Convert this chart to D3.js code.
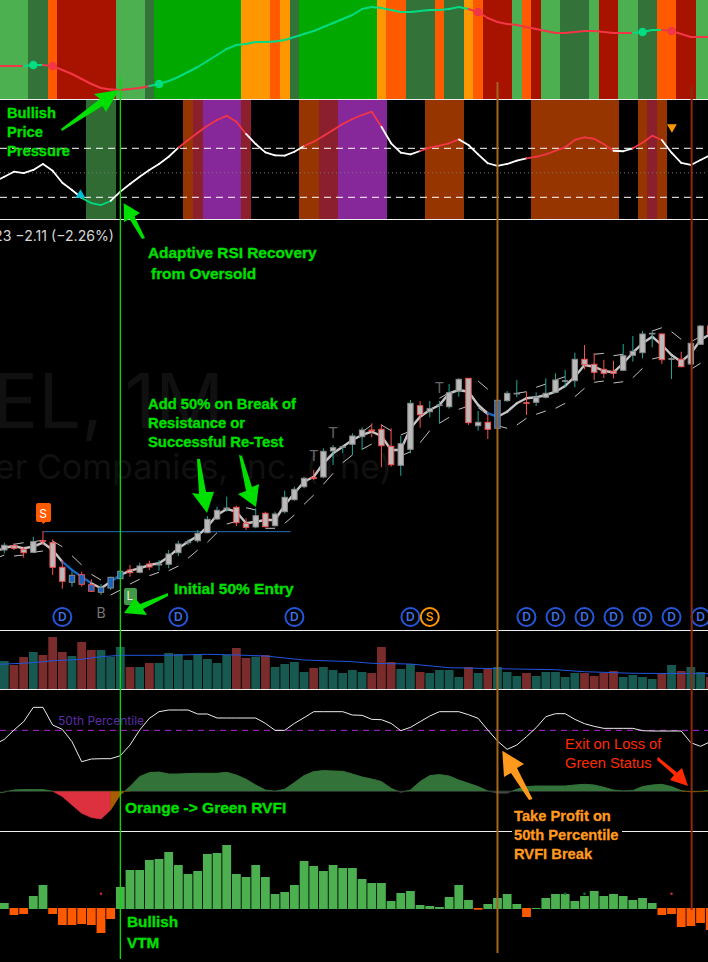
<!DOCTYPE html>
<html>
<head>
<meta charset="utf-8">
<style>
  html, body { margin: 0; padding: 0; background: #000; overflow: hidden; }
  svg { display: block; }
</style>
<script src="https://cdn.jsdelivr.net/npm/d3@7"></script>
</head>
<body>
<svg id="chart" width="708" height="962"></svg>
<script>
// ---- data, one entry per monthly bar (74 bars) ----
const pressureRuns = [['lg',3],['dg',2],['ro',1],['dr',6],['lg',3],['dg',1],['gr',9],['or',3],['ro',1],['or',1],['dg',1],['gr',8],['or',1],['ro',2],['dg',3],['ro',1],['dg',2],['or',1],['ro',1],['dr',3],['lg',1],['ro',1],['dr',1],['lg',2],['dg',3],['lg',1],['dr',2],['lg',2],['dg',2],['ro',2],['dr',2],['lg',2]];
const pressureLine = [33,33,33,34,34,33,29,25,20,15,11,9.5,9,10,11,13,15,18,22,27,32,38,44,50,54,55,57,57,57.5,59,62,65,68,72,76,80,84,90,92,91,89,87,87,88,89,89,90,92,90,87,81,77,75,74,72,70,68,66,66,67,68,68,67,66,66,66,67,69,69,68,65,62,62,62];
const pressureLineRuns = [['r',2],['g',2],['r',11],['g',33],['r',17],['g',3],['r',5]];
const pressureDots = [[3,'g'],[5,'r'],[16,'g'],[49,'r'],[66,'g'],[69,'r']];

const rsiRuns = [['',9],['dg',3],['',7],['br',1],['dr',1],['pu',4],['dr',1],['',5],['br',2],['dr',2],['pu',5],['',4],['br',4],['',7],['br',9],['',2],['br',1],['dr',1],['br',1],['',5]];
const rsiLine = [46.8,50.9,49.8,52.3,57.2,51.7,41.9,36,29.4,25.3,23.7,27,34.6,40.9,46.8,52.3,57.2,63.1,70.5,76.8,82.7,88.4,93.1,96.6,91.7,81.7,73.5,66.7,64.3,64,67.2,71.9,75.4,80,84.9,89.8,93.9,97.2,99.9,87.6,74.1,66.4,65.1,67.8,70.5,72.1,74.1,77.3,72.7,65.1,57.8,55.6,57.2,59.9,61.8,63.1,65.1,68,70.8,76.8,79,77.8,73.3,68,67.6,70,74.6,80.3,76.8,66.4,58.2,56.4,60.4,64.5];
const rsiLineRuns = [['w',8],['g',3],['w',7],['r',7],['w',6],['r',8],['w',4],['r',4],['w',7],['r',9],['w',2],['r',3],['w',5]];

const opens  = [80,84.3,80.7,77.7,89.3,87.3,62.7,47.7,55.3,45.3,37.7,42,51.3,60,57.7,66,65,65.7,77.3,87.3,89.3,97.3,111,121,122.7,106.7,103,116.7,104.3,118.3,130.3,143.3,152.3,153,179,183,185.7,193.3,200,200.7,183.7,164.7,180.7,224.3,218.3,224.7,223.3,239,251.7,204.3,207.7,201.7,229.3,236.3,227.3,227.7,232.7,237.7,249,249.3,270.7,265.7,260.7,258.7,259.7,274.7,277.3,296,296,271,270.7,266,285.7,304];
const highs  = [87.3,86.7,83.3,93.3,99,90.7,70,58.3,58.3,50.7,46,53.3,60,65,67.3,69.3,70,80,89.3,90.7,100,114,123.3,133.3,124,111.7,121.7,118.3,118.3,139.3,143.3,153.3,160,181.7,185,185,196.7,202.7,206.7,205.7,201.7,194,230,229,229,229,246,251.7,251.7,219,216.7,238.3,239,250,238.3,237.7,251.7,256.7,260,277.3,285,276.7,270,269.3,286,294,299,299.3,296.7,273.3,278.3,287.3,304.7,306];
const lows   = [76.7,80,72.3,76.7,85,55,41.3,43.3,43.3,38,35,40,50,53.3,56.7,60,59.3,61.7,74,85,87.3,96.7,110,118.3,104,100,101.7,102.7,103.3,116.7,129.3,141.7,150,151.7,165,176.7,175,180,192.7,162.7,163.3,154.3,176.7,202.3,212.7,206.7,221.3,233.3,205,199.3,191,191.7,228.3,232.7,215,224,231.7,236.7,242.7,242.7,260.7,250,252,251.7,259.3,268.3,271.7,282.7,266,251,262.7,265,285,292];
const closes = [84.7,81.7,77.3,88.3,88.7,62.7,48.7,54.7,45.7,38.7,42.7,52.7,58.7,57.3,64,63,66,76,86,88.3,96.7,110.7,119.7,122,107.3,102.7,114.3,103.3,116,132.7,140.7,151.7,151.7,178.7,182.3,183.3,194,200,199.3,184.3,165.3,186.3,226.7,215.3,221.3,225,237.3,250.7,207.3,207.7,200.7,229.7,236.7,236.7,226.7,232.7,236.7,250,249.3,270.7,265.3,257.7,256.7,256.7,274.3,278.7,296,296.7,270.3,271.3,263.3,286.7,304,296];
const blueBars = [7,8,9,10,11,12,51];

const trendLine = [82.3,84,81.7,83.3,87.3,80,68.3,60,53.3,46.7,41.7,48.3,55,59.3,61.7,65,66.7,73.3,81.7,88.3,94,103.3,115,121,118.3,106.7,108.3,110,110,125,136.7,148.3,153.3,166.7,176.7,183.3,190,195,198.3,194,180,180,201.7,213.3,220,225,236.7,240,238.3,225,216.7,213.3,218.3,226.7,231.7,232.7,235,238.3,244,253.3,265,263.3,259,257.7,266.7,277.3,286.7,293.3,285,275,268.3,276.7,290,296];
const trendBlue = [6,7,8,11,50];

// short stop segments, each runs from one bar to the next
const stopBars = [-1,1,1,3,3,5,7,9,11,13,15,17,19,21,23,25,27,29,31,33,35,37,37,39,41,41,43,45,45,47,49,49,51,53,53,55,55,57,57,59,61,61,63,63,65,67,67,69,71,71];
const stopFrom = [71,85.7,74,88.3,77.7,89,74.3,55.7,35,46,54.3,59.3,71.7,87.7,106,122.3,101.7,106.7,125.7,145.7,167.3,180.7,198,205,174,195,187.3,206.7,231.7,220.7,249,222.3,204.3,205,236.7,215.7,242.7,221.7,250,233.3,247.7,275.7,247,274.3,252.3,271,299,298.3,260.7,288.3];
const stopTo   = [75,87.3,75,89.7,79,83.3,65,50,40,50.7,57.7,64,80,97.3,108.7,120,101.7,115,135,156.7,175,186,205,199.3,178.3,199,199.3,212.7,237.3,224,240.7,215,201.7,211.7,238.3,219,246,226.7,253.3,241.7,249,276.7,248.3,275.7,261.7,273.3,302.3,290.7,266.7,293.3];

const resistance = 98.3;
const resistanceBars = [4,29.6];
const topMarks = [[32,169],[34,192],[45,237]];
const dividendBars = [6,18,30,42,54,57,60,63,66,69,72];
const splitBar = 44;

const volumes = [28,24,32,37,34,52,37,33,47,39,39,32.3,42,22,22,26,26,36,35,29,34,30,26,34,41,31,32.3,34,22,25,27,17,21,22,19,16,19,17,16,42,27,20,25,17,16,19,19,12,22,16,20,22,17,13,16,13,17,17,12,16,16,13,16,18,12,14,12,10,15,24,18,22,17,12];
const volumeUp = [1,0,0,1,0,0,0,1,0,0,1,1,1,0,1,0,1,1,1,1,1,1,1,1,0,0,1,0,1,1,1,1,0,1,1,1,1,1,0,0,0,1,1,0,1,1,1,1,0,1,0,1,1,1,0,1,1,1,1,1,0,0,0,0,1,1,1,1,0,1,0,1,1,0];
const volumeMaBars = [-0.45,3,5,8,10,12,17,21,24,27,31,36,38,42,46,51,57,60,65,73];
const volumeMa = [24.7,26.3,28.3,29.7,32.3,33.7,33.7,34.7,34,33,29,27.3,25.7,25,21.3,20.3,19.3,17.3,15.7,15.3];

const percentile = [36.5,50.5,63,84.5,84.5,58,51.5,33,3,7,7.5,7.5,12,28,50.5,68,78,80.5,80.5,80.5,74.5,74.5,68.5,68.5,68.5,68.5,68.5,60.5,50,50,60.5,69,78,78,78,78,73,72.5,66.5,66,60.5,49.5,54.5,63,71.5,78,78,78,73.5,68,50.5,34,21.5,28,40.5,54,70.5,75,75,66.5,60,56,53,53,53,53,49.5,49,49,49,49,31.5,26,33];
const rvfi = [-1,1.3,1.7,1.7,1.7,0,-5.3,-13.7,-22,-26.3,-27.7,-18.7,-3.7,4.7,14.7,18.7,19.3,17.3,17.3,17.7,18,18,18,19,16.3,12,6.3,1.3,0,2,8.7,15.7,19.7,20.7,20.3,20,17.3,14.3,12.3,9.7,3,-1.3,1.3,9.7,15.7,16.7,15.3,11.3,8,4.7,0.3,-2,-2,2,4.7,5.3,5.3,5.3,5.3,6.3,7,6.3,4,1.3,0.3,0.7,4.7,6.3,7,4.7,0.7,-0.7,-0.3,1.3];
const rvfiBelowRuns = [[0,5,'#444'],[5,11,'#DE3140'],[11,13,'#A85E00'],[13,70,'#444'],[70,73,'#A85E00']];

const vtm = [6,-6,-5,13,24,-5,-16,-16,-15,-16,-24,-10,22,39,39,49,50,57,44,35,38,55,56,64,35,32,44,32,15,17,24,48,43,38,44,41,41,30,26,26,8,16,18,4,3,2,12,24,9,-0.7,5,11,15,5,-8,1,11,15,15,8,13,18,13,15,13,9,11,6,-6,-5,-18,-17,-14,-21];
const vtmDots = [[10,'r'],[58,'g'],[60,'g'],[69,'r']];

// value each line has where it runs in from the left edge of the picture
const leftEdge = { pressure: 33, rsi: 44.9, trend: 80, percentile: 33 };
const EDGE = -0.45;

// ---- colours ----
const bandColor = { lg:'#4CAF50', dg:'#33733A', ro:'#FF5A00', dr:'#A81300', gr:'#00A800', or:'#FF9800', br:'#963500', pu:'#86279A' };
const rsiDarkRed = '#8C1F2E';
const lineColor = { r:'#F23645', g:'#00DC82', w:'#FFFFFF' };
const paneLine = '#EEEEEE';

const svg = d3.select('#chart');

// ---- scales ----
const x = d3.scaleLinear().domain([0, 73]).range([4.3, 4.3 + 9.67 * 73]);
const step = x(1) - x(0);
const pressureY = d3.scaleLinear().domain([0, 99]).range([99, 0]);
const rsiY = d3.scaleLinear().domain([30, 70]).range([197.3, 148.3]);
const priceY = d3.scaleLinear().domain([0, 411]).range([630, 219]);
const volY = d3.scaleLinear().domain([0, 59]).range([689, 630]);
const pctY = d3.scaleLinear().domain([0, 100]).range([763.7, 697]);
const rvfiY = d3.scaleLinear().domain([0, 30]).range([791.3, 761.3]);
const vtmY = d3.scaleLinear().domain([0, 79]).range([909, 830]);

function expand(runs) {
  return d3.merge(runs.map(r => d3.range(r[1]).map(() => r[0])));
}

function drawColoredLine(g, values, runs, scale, width, lead) {
  const states = expand(runs);
  const line = d3.line().x(d => x(d)).y(d => scale(d < 0 ? lead : values[d]));
  g.append('path').attr('d', line([EDGE, 0])).attr('fill', 'none')
    .attr('stroke', lineColor[states[0]]).attr('stroke-width', width);
  g.selectAll(null).data(d3.range(values.length - 1)).enter().append('path')
    .attr('d', i => line([i, i + 1]))
    .attr('fill', 'none')
    .attr('stroke', i => lineColor[states[i]])
    .attr('stroke-width', width)
    .attr('stroke-linecap', 'round');
}

// ---- watermark + legend text ----
const wm = svg.append('g').attr('font-family', 'Inter, "Liberation Sans", sans-serif').attr('fill', '#101010');
wm.append('text').attr('x', 224).attr('y', 428).attr('text-anchor', 'end').attr('font-size', 76).text('EL, 1M');
wm.append('text').attr('x', 392).attr('y', 479).attr('text-anchor', 'end').attr('font-size', 34).text('er Companies, Inc. (The)');

svg.append('text').attr('x', 114).attr('y', 241).attr('text-anchor', 'end')
  .attr('font-family', 'Inter, sans-serif').attr('font-size', 14.1).attr('fill', '#D8D8D8')
  .text('23  \u22122.11 (\u22122.26%)');

// ---- top pressure pane ----
const topPane = svg.append('g');
topPane.selectAll(null).data(expand(pressureRuns)).enter().append('rect')
  .attr('x', (d, i) => x(i) - step / 2).attr('width', step + 0.3)
  .attr('y', 0).attr('height', 99)
  .attr('shape-rendering', 'crispEdges')
  .attr('fill', d => bandColor[d]);
drawColoredLine(topPane, pressureLine, pressureLineRuns, pressureY, 2, leftEdge.pressure);
topPane.selectAll(null).data(pressureDots).enter().append('circle')
  .attr('cx', d => x(d[0])).attr('cy', d => pressureY(pressureLine[d[0]]))
  .attr('r', 4.3).attr('fill', d => lineColor[d[1]]);

// ---- adaptive rsi pane ----
const rsiPane = svg.append('g');
rsiPane.selectAll(null).data(expand(rsiRuns)).enter().append('rect')
  .attr('x', (d, i) => x(i) - step / 2).attr('width', step + 0.3)
  .attr('y', 99).attr('height', 120)
  .attr('shape-rendering', 'crispEdges')
  .attr('fill', d => d === '' ? 'none' : (d === 'dr' ? rsiDarkRed : (d === 'dg' ? '#2F6B33' : bandColor[d])));
rsiPane.selectAll(null).data([70, 30]).enter().append('line')
  .attr('x1', 0).attr('x2', 708).attr('y1', d => rsiY(d)).attr('y2', d => rsiY(d))
  .attr('stroke', '#fff').attr('stroke-width', 1).attr('stroke-dasharray', '7 5');
rsiPane.append('line').attr('x1', 0).attr('x2', 708).attr('y1', rsiY(50)).attr('y2', rsiY(50))
  .attr('stroke', '#777').attr('stroke-width', 1).attr('stroke-dasharray', '1 3');
drawColoredLine(rsiPane, rsiLine, rsiLineRuns, rsiY, 1.8, leftEdge.rsi);
// oversold / overbought triangles
rsiPane.append('path').attr('d', d3.symbol(d3.symbolTriangle, 42))
  .attr('transform', `translate(${x(8) - 1.2},195)`).attr('fill', '#00BCD4');
rsiPane.append('path').attr('d', d3.symbol(d3.symbolTriangle, 42))
  .attr('transform', `translate(${x(69) + 0.4},127) rotate(180)`).attr('fill', '#FF9800');

// ---- price pane ----
const price = svg.append('g');
price.append('line')
  .attr('x1', x(resistanceBars[0])).attr('x2', x(resistanceBars[1]))
  .attr('y1', priceY(resistance)).attr('y2', priceY(resistance))
  .attr('stroke', '#2470B8').attr('stroke-width', 1);

const trend = d3.line().x(d => x(d)).y(d => priceY(d < 0 ? leftEdge.trend : trendLine[d]));
price.append('path').attr('d', trend([EDGE, 0])).attr('fill', 'none')
  .attr('stroke', '#C4C4C4').attr('stroke-width', 2.4);
price.selectAll(null).data(d3.range(trendLine.length - 1)).enter().append('path')
  .attr('d', i => trend([i, i + 1]))
  .attr('fill', 'none')
  .attr('stroke', i => trendBlue.includes(i) ? '#1565C0' : '#C4C4C4')
  .attr('stroke-width', 2.4).attr('stroke-linecap', 'round');

price.selectAll(null).data(stopBars).enter().append('line')
  .attr('x1', d => x(d)).attr('x2', d => x(d + 1))
  .attr('y1', (d, i) => priceY(stopFrom[i])).attr('y2', (d, i) => priceY(stopTo[i]))
  .attr('stroke', '#C0C0C0').attr('stroke-width', 1);

const isUp = i => closes[i] >= opens[i];
const candles = price.selectAll(null).data(d3.range(opens.length)).enter().append('g');
candles.append('line')
  .attr('x1', d => x(d)).attr('x2', d => x(d))
  .attr('y1', d => priceY(highs[d])).attr('y2', d => priceY(lows[d]))
  .attr('stroke', d => isUp(d) ? '#26A69A' : '#F55252').attr('stroke-width', 1);
candles.append('rect')
  .attr('x', d => x(d) - 2.7).attr('width', 5.4)
  .attr('y', d => priceY(Math.max(opens[d], closes[d])))
  .attr('height', d => Math.max(0.6, Math.abs(priceY(opens[d]) - priceY(closes[d]))))
  .attr('fill', d => blueBars.includes(d) ? '#1565C0' : '#BABABA')
  .attr('stroke', d => isUp(d) ? '#8C8C8C' : '#F55252').attr('stroke-width', 1);

// signal labels
price.append('path')
  .attr('d', 'M36,505 q0,-2 2,-2 h11 q2,0 2,2 v15 q0,2 -2,2 h-3.5 l-2,2 l-2,-2 h-3.5 q-2,0 -2,-2 z')
  .attr('fill', '#FF5A00');
price.append('text').attr('x', 43.2).attr('y', 517.5).attr('text-anchor', 'middle')
  .attr('font-family', 'Inter, sans-serif').attr('font-size', 12).attr('fill', '#fff').text('S');
price.append('path')
  .attr('d', 'M124,590 q0,-2 2,-2 h9 q2,0 2,2 v13 q0,2 -2,2 h-9 q-2,0 -2,-2 z')
  .attr('fill', '#43994A');
price.append('text').attr('x', 130).attr('y', 600).attr('text-anchor', 'middle')
  .attr('font-family', 'Inter, sans-serif').attr('font-size', 12).attr('fill', '#E8E8E8').text('L');
price.append('text').attr('x', x(10)).attr('y', 618).attr('text-anchor', 'middle')
  .attr('font-family', 'Inter, sans-serif').attr('font-size', 14).attr('fill', '#777').text('B');
price.selectAll(null).data(topMarks).enter().append('text')
  .attr('x', d => x(d[0])).attr('y', d => priceY(d[1])).attr('text-anchor', 'middle')
  .attr('font-family', 'Inter, sans-serif').attr('font-size', 15).attr('fill', '#666').text('T');

const events = price.selectAll(null)
  .data(dividendBars.map(i => [i, 'D']).concat([[splitBar, 'S']])).enter().append('g')
  .attr('transform', d => `translate(${x(d[0])},617)`);
events.append('circle').attr('r', 9).attr('fill', '#000')
  .attr('stroke', d => d[1] === 'D' ? '#2456D8' : '#FF9800').attr('stroke-width', 2);
events.append('text').attr('y', 4.3).attr('text-anchor', 'middle')
  .attr('font-family', 'Inter, sans-serif').attr('font-size', 12).attr('font-weight', 600)
  .attr('fill', d => d[1] === 'D' ? '#3F73E8' : '#FF9800').text(d => d[1]);

// ---- volume pane ----
const vol = svg.append('g');
vol.selectAll(null).data(volumes).enter().append('rect')
  .attr('x', (d, i) => x(i) - 4.4).attr('width', 8.8)
  .attr('y', d => volY(d)).attr('height', d => volY(0) - volY(d))
  .attr('fill', (d, i) => volumeUp[i] ? '#175850' : '#7A2C2C');
vol.append('path')
  .attr('d', d3.line().x(d => x(d)).y((d, i) => volY(volumeMa[i]))(volumeMaBars))
  .attr('fill', 'none').attr('stroke', '#2255E0').attr('stroke-width', 1);

// ---- rvfi pane ----
const rvfiPane = svg.append('g');
const rvfiArea = d3.area().x(d => x(d)).y0(rvfiY(0)).y1(d => rvfiY(rvfi[Math.max(d, 0)]));
svg.append('defs').call(defs => {
  defs.append('clipPath').attr('id', 'aboveZero').append('rect')
    .attr('x', 0).attr('width', 708).attr('y', rvfiY(30)).attr('height', rvfiY(0) - rvfiY(30));
  defs.append('clipPath').attr('id', 'belowZero').append('rect')
    .attr('x', 0).attr('width', 708).attr('y', rvfiY(0)).attr('height', 40);
});
rvfiPane.append('path').attr('clip-path', 'url(#aboveZero)')
  .attr('d', rvfiArea(d3.range(rvfi.length)))
  .attr('fill', '#33733A').attr('stroke', '#33733A').attr('stroke-width', 1);
rvfiPane.append('g').attr('clip-path', 'url(#belowZero)')
  .selectAll(null).data(rvfiBelowRuns).enter().append('path')
  .attr('d', d => rvfiArea(d3.range(d[0], d[1] + 1)))
  .attr('fill', d => d[2]).attr('stroke', d => d[2]).attr('stroke-width', 0.6);
rvfiPane.append('path').attr('d', d3.line().x(d => x(d)).y(d => rvfiY(rvfi[Math.max(d, 0)]))([EDGE, 0]))
  .attr('fill', 'none').attr('stroke', '#33733A').attr('stroke-width', 1);

rvfiPane.append('line').attr('x1', 0).attr('x2', 708).attr('y1', pctY(50)).attr('y2', pctY(50))
  .attr('stroke', '#B026D8').attr('stroke-width', 1).attr('stroke-dasharray', '6 5');
rvfiPane.append('path')
  .attr('d', d3.line().x(d => x(d)).y(d => pctY(d < 0 ? leftEdge.percentile : percentile[d]))([EDGE].concat(d3.range(percentile.length))))
  .attr('fill', 'none').attr('stroke', '#EDEDED').attr('stroke-width', 1);
rvfiPane.append('text').attr('x', 58).attr('y', 725)
  .attr('font-family', 'Inter, sans-serif').attr('font-size', 12).attr('fill', '#5A2DA6')
  .text('50th Percentile');

// ---- vtm pane ----
const vtmPane = svg.append('g');
vtmPane.selectAll(null).data(vtm).enter().append('rect')
  .attr('x', (d, i) => x(i) - 4.4).attr('width', 8.8)
  .attr('y', d => d >= 0 ? vtmY(d) : vtmY(0) - 1)
  .attr('height', d => d >= 0 ? vtmY(0) - vtmY(d) : vtmY(d) - vtmY(0) + 1)
  .attr('fill', d => d >= 0 ? '#4CAF50' : '#FF5A00');
vtmPane.selectAll(null).data(vtmDots).enter().append('circle')
  .attr('cx', d => x(d[0])).attr('cy', vtmY(15.3)).attr('r', 1.3)
  .attr('fill', d => d[1] === 'r' ? '#C8283C' : '#1E6B34');

// ---- pane separators ----
svg.append('g').selectAll(null).data([99.5, 219.5, 630.5, 689.5, 831.5]).enter().append('line')
  .attr('x1', 0).attr('x2', 708).attr('y1', d => d).attr('y2', d => d)
  .attr('stroke', paneLine).attr('stroke-width', 1);

// ---- trade lines ----
const tradeLines = [[12,77,959,'#00E000',1.3],[51,82,953,'#A5651E',2],[71.08,86.5,910,'#8F2A10',2]];
svg.append('g').selectAll(null).data(tradeLines).enter().append('line')
  .attr('x1', d => x(d[0])).attr('x2', d => x(d[0]))
  .attr('y1', d => d[1]).attr('y2', d => d[2])
  .attr('stroke', d => d[3]).attr('stroke-width', d => d[4]);

// ---- annotations ----
const GREEN = '#00E000', ORANGE = '#FF9A1F', RED = '#FF2A00';
const arrows = [
  [GREEN, [[61,129],[100,99],[94,94],[119,90],[106,112],[102.5,106],[62,131]]],
  [GREEN, [[123.7,203.3],[140,213],[134.5,216.5],[145,238],[142,239],[129.5,219],[124,222]]],
  [GREEN, [[197,459],[200,459],[206,492],[214,491.7],[207,513],[192,493],[199,494]]],
  [GREEN, [[239,455],[242,456],[252,487],[259,484],[256,507],[238,494],[246,491]]],
  [GREEN, [[168,593],[168,596],[143,609],[147,615],[124,613],[135,598],[140,604]]],
  [ORANGE, [[502.3,750.7],[524,764],[517,768],[532.5,799],[529,800],[511,773],[504,777]]],
  [RED, [[658,757],[677,772.5],[682,768],[688,786],[670,780],[674,775],[657,760]]]
];
const ann = svg.append('g');
ann.selectAll(null).data(arrows).enter().append('polygon')
  .attr('points', d => d[1].map(p => p.join(',')).join(' '))
  .attr('fill', d => d[0]);

// black box behind the orange note, it cuts the pane line
ann.append('rect').attr('x', 512).attr('y', 826).attr('width', 110).attr('height', 10).attr('fill', '#000');

const notes = [
  ['Bullish', 7, 118, GREEN, 'bold', 14.7], ['Price', 7, 137, GREEN, 'bold', 14.7], ['Pressure', 7, 156, GREEN, 'bold', 14.7],
  ['Adaptive RSI Recovery', 148, 258, GREEN, 'bold', 15.4], ['from Oversold', 151, 279, GREEN, 'bold', 15.4],
  ['Add 50% on Break of', 148, 409, GREEN, 'bold', 14.8], ['Resistance or', 148, 428, GREEN, 'bold', 14.8], ['Successful Re-Test', 148, 447, GREEN, 'bold', 14.8],
  ['Initial 50% Entry', 174, 594, GREEN, 'bold', 15.5],
  ['Orange -> Green RVFI', 125, 813, GREEN, 'bold', 15.5],
  ['Bullish', 127, 927, GREEN, 'bold', 15.3], ['VTM', 127, 948, GREEN, 'bold', 15.3],
  ['Take Profit on', 514, 821, ORANGE, 'bold', 14.7], ['50th Percentile', 514, 840, ORANGE, 'bold', 14.7], ['RVFI Break', 514, 859, ORANGE, 'bold', 14.7],
  ['Exit on Loss of', 565, 749, RED, 'normal', 14.7], ['Green Status', 565, 768, RED, 'normal', 14.7]
];
ann.selectAll(null).data(notes).enter().append('text')
  .attr('x', d => d[1]).attr('y', d => d[2])
  .attr('fill', d => d[3]).attr('font-weight', d => d[4])
  .attr('stroke', d => d[3]).attr('stroke-width', d => d[4] === 'bold' ? 0.3 : 0)
  .attr('font-family', '"Liberation Sans", Arial, sans-serif').attr('font-size', d => d[5])
  .text(d => d[0]);
</script>
</body>
</html>
